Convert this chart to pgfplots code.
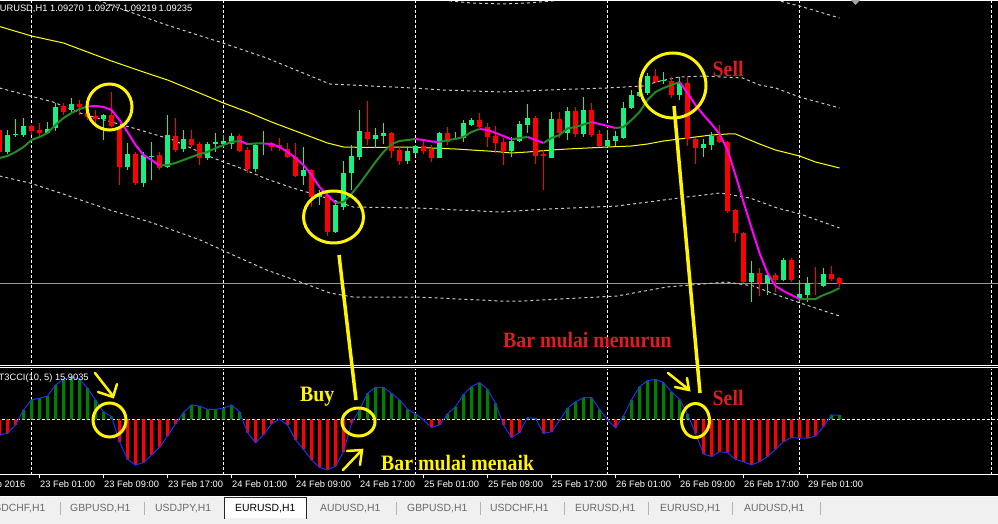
\documentclass[border=0pt]{standalone}
\usepackage{pgfplots}
\pgfplotsset{compat=1.18}
\usepackage{pgfplotstable}
\usepackage{graphicx}
\usepackage{fontspec}
\setmainfont{Liberation Sans}
\newfontfamily\notefont{Liberation Serif}

\definecolor{bull}{RGB}{20,240,130}
\definecolor{bear}{RGB}{255,0,0}
\definecolor{tup}{RGB}{34,139,34}
\definecolor{tdown}{RGB}{255,0,255}
\definecolor{slowma}{RGB}{255,255,0}
\definecolor{band}{RGB}{200,200,200}
\definecolor{bidgray}{RGB}{150,150,150}
\definecolor{cciup}{RGB}{0,128,0}
\definecolor{ccidn}{RGB}{255,0,0}
\definecolor{cciline}{RGB}{30,50,240}
\definecolor{hilite}{RGB}{255,245,0}
\definecolor{notered}{RGB}{220,30,35}
\definecolor{tabbg}{RGB}{240,240,240}
\definecolor{tabtext}{RGB}{105,105,105}

\newcommand\uifont{\fontsize{9.3}{11}\selectfont}
\newcommand\tabfont{\fontsize{10.4}{12}\selectfont}
\newcommand\notesize{\notefont\bfseries\fontsize{22}{24}\selectfont}

% EURUSD H1 candles: open, high, low, close (chart rows, top = 0)
\pgfplotstableread{
k o h l c
-1 130 128 155 152
0 152 130 154 135
1 135 119 137 134
2 135 118 137 126
3 126 125 135 131
4 130 123 137 133
5 133 122 134 129
6 128 103 131 107
7 106 103 115 112
8 110 98 112 104
9 104 100 115 107
10 113 110 120 117
11 116 110 124 119
12 119 114 140 115
13 115 92 127 126
14 128 126 185 167
15 167 143 170 154
16 154 152 185 183
17 183 152 187 155
18 157 142 180 156
19 155 152 170 168
20 167 115 168 135
21 136 118 152 150
22 149 130 152 139
23 139 130 147 145
24 144 142 165 158
25 158 142 160 144
26 144 133 152 142
27 144 135 147 141
28 144 133 149 136
29 136 134 152 151
30 150 147 173 169
31 169 143 172 145
32 144 131 155 143
33 143 142 151 147
34 145 138 151 148
35 149 143 158 157
36 157 143 177 176
37 176 147 185 170
38 170 169 207 197
39 197 190 205 193
40 195 193 236 232
41 232 200 233 205
42 207 161 210 173
43 173 145 190 156
44 157 110 160 131
45 132 101 145 139
46 139 128 148 135
47 136 123 144 133
48 133 132 158 151
49 150 147 165 161
50 161 147 164 151
51 153 145 155 146
52 146 140 154 151
53 149 145 162 158
54 158 132 158 133
55 133 127 145 142
56 139 132 140 138
57 138 120 142 123
58 125 118 126 120
59 120 113 128 127
60 127 123 147 137
61 136 126 153 143
62 142 138 165 151
63 151 137 157 141
64 141 121 142 124
65 125 104 133 118
66 118 116 164 156
67 154 150 190 156
68 158 112 158 119
69 119 112 138 133
70 133 107 140 111
71 111 107 137 134
72 134 97 137 110
73 110 103 137 135
74 134 130 147 146
75 146 130 147 140
76 141 131 146 136
77 138 102 139 108
78 108 90 109 95
79 96 78 97 92
80 93 73 95 76
81 76 69 83 82
82 81 72 84 80
83 81 77 98 95
84 95 77 100 83
85 83 77 146 139
86 139 138 164 148
87 148 139 157 144
88 145 132 150 136
89 136 125 143 142
90 142 141 213 211
91 210 209 242 233
92 233 232 283 282
93 282 261 302 273
94 273 268 296 283
95 283 273 295 275
96 275 273 292 280
97 280 258 281 260
98 260 258 282 280
99 298 280 302 294
100 295 277 302 283
101 283 267 295 284
102 286 268 287 274
103 274 266 281 279
104 278 277 287 283.5
}\candles

% T3 moving average, split into rising (g) and falling (m) stretches
\pgfplotstableread{
k g m
-1 158 nan
0 156 nan
1 152 nan
2 147 nan
3 140 nan
4 137 nan
5 133 nan
6 125 nan
7 118 nan
8 113 nan
9 109 nan
10 106.5 106.5
11 nan 106
12 nan 107
13 nan 110
14 nan 120
15 nan 132
16 nan 145
17 nan 155
18 nan 160
19 165.5 165.5
20 165 nan
21 163 nan
22 160 nan
23 157 nan
24 154 nan
25 152 nan
26 148 nan
27 145 nan
28 142 nan
29 141 141
30 144 144
31 143.5 nan
32 143.5 143.5
33 nan 144
34 nan 147
35 nan 152
36 nan 158
37 nan 165
38 nan 175
39 nan 187
40 nan 195
41 203 203
42 202 nan
43 194 nan
44 184 nan
45 173 nan
46 162 nan
47 152 nan
48 144 nan
49 141 nan
50 140 nan
51 139 139
52 nan 140
53 nan 141.5
54 142 142
55 140 nan
56 139 nan
57 137 nan
58 132 nan
59 129 129
60 nan 130
61 nan 133
62 nan 136
63 139.5 139.5
64 138 nan
65 137 137
66 nan 140
67 143 143
68 138 nan
69 135 nan
70 128.5 nan
71 127 nan
72 124.5 nan
73 122 122
74 nan 124
75 nan 126
76 128 128
77 127 nan
78 120 nan
79 112 nan
80 100 nan
81 92 nan
82 88 nan
83 85 nan
84 82 82
85 nan 93
86 nan 105
87 nan 115
88 nan 124
89 nan 134
90 nan 150
91 nan 175
92 nan 202
93 nan 228
94 nan 253
95 nan 273
96 nan 286
97 nan 291
98 nan 295
99 299 299
100 299 nan
101 299 nan
102 295 nan
103 292 nan
104 288 nan
}\tthree

% T3CCI(10,5) values
\pgfplotstableread{
k v
-1 -58
0 -52
1 -21
2 35
3 72
4 78
5 86
6 127
7 148
8 158
9 148
10 115
11 72
12 28
13 10
14 -83
15 -148
16 -169
17 -160
18 -132
19 -104
20 -62
21 -17
22 25
23 53
24 49
25 37
26 37
27 41
28 53
29 28
30 -49
31 -86
32 -58
33 -17
34 1
35 -21
36 -76
37 -111
38 -150
39 -178
40 -187
41 -173
42 -120
43 -15
44 35
45 96
46 118
47 118
48 96
49 72
50 37
51 20
52 -2
53 -30
54 -21
55 20
56 47
57 92
58 121
59 136
60 111
61 59
62 -21
63 -67
64 -49
65 6
66 4
67 -52
68 -46
69 -5
70 41
71 65
72 80
73 80
74 37
75 -2
76 -31
77 12
78 72
79 121
80 143
81 148
82 136
83 102
84 74
85 20
86 -52
87 -128
88 -138
89 -120
90 -123
91 -148
92 -157
93 -169
94 -157
95 -138
96 -111
97 -83
98 -67
99 -70
100 -70
101 -62
102 -27
103 16
104 15.9035
}\cci

\tikzset{
  gridline/.style={white, line width=1pt, dash pattern=on 3pt off 2pt},
  bandline/.style={band, line width=1pt, dash pattern=on 3pt off 3pt},
  hl/.style={hilite, line width=3pt},
}

\begin{document}
\begin{tikzpicture}
\path[use as bounding box] (0,0) rectangle (998pt,524pt);
\clip (0,0) rectangle (998pt,524pt);
\fill[black] (0,0) rectangle (998pt,524pt);

% ---------------- price window ----------------
\begin{axis}[at={(0pt,159pt)}, anchor=south west,
  width=998pt, height=365pt, scale only axis,
  xmin=-0.9375, xmax=123.8125, ymin=0, ymax=365, y dir=reverse,
  hide axis, clip=true]
  \draw[gridline] (axis cs:3,0) -- (axis cs:3,365);
  \draw[gridline] (axis cs:27,0) -- (axis cs:27,365);
  \draw[gridline] (axis cs:51,0) -- (axis cs:51,365);
  \draw[gridline] (axis cs:75,0) -- (axis cs:75,365);
  \draw[gridline] (axis cs:99,0) -- (axis cs:99,365);
  \draw[gridline] (axis cs:123,0) -- (axis cs:123,365);
  % bid line
  \addplot[bidgray, line width=1pt, forget plot] coordinates {(-2,283.5) (125,283.5)};
  % envelope bands
  \addplot[bandline, forget plot] coordinates {
    (-1,-117) (40.3,-6) (50.7,-2) (54.4,0) (56,1.5) (58,3) (62,4) (65,3) (68,1)
    (70,-1) (75,-2) (79.4,-4) (81.6,-11) (86.9,-14) (91.9,-12) (95,-4) (97,2)
    (99,6) (101.5,12) (104,18)};
  \addplot[bandline, forget plot] coordinates {
    (-1,-27) (10.9,-1) (13.2,6) (19.9,25) (26.9,43) (32.4,58) (40.3,84) (50.7,88)
    (54.4,90) (61.9,92) (67.4,90) (74.9,88) (79.4,86) (81.6,81) (84,77) (86.9,76)
    (91.9,78) (94,85) (96,88) (99,97) (104,108)};
  \addplot[bandline, forget plot] coordinates {
    (-1,88) (5.7,102) (9.4,114) (15.7,128) (20.7,140) (25.7,158) (29.1,168)
    (32.4,179) (35.3,187) (37.8,193) (40.7,200) (43.2,207) (51.2,208) (61.6,212)
    (67.4,209) (76.2,206) (84.9,197) (89.1,193) (92.8,198) (96.2,208) (99.1,214)
    (104,228)};
  \addplot[bandline, forget plot] coordinates {
    (-1,176) (2.8,183) (6.6,193) (12.8,210) (17.8,222) (24.1,240) (28.2,255)
    (32.4,270) (36.6,282) (40.3,293) (43.2,297) (51.2,297) (61.6,301) (64.4,301)
    (76.2,296) (82.4,287) (89.9,282) (93.2,286) (96.2,295) (99.1,303) (104,316)};
  % slow moving average
  \addplot[slowma, line width=1pt, forget plot] coordinates {
    (-1,26.5) (3,36) (7,43) (10,52) (13,61) (17,72) (20,80) (24,93) (27,103)
    (30,112) (33,122) (37,134) (40,143) (42,147) (45,147.5) (50,147) (53,148)
    (56,149) (58,150) (61,151.5) (63,153) (65,152) (68,150) (70,149) (75,147)
    (78,146) (80,144) (82,141) (84,139) (86,137) (88,135) (90,134) (91,134)
    (94,144) (96,150) (99,156) (101,162) (104,168)};
  % candle wicks
  \addplot[forget plot, draw=none, mark=none,
    restrict expr to domain={\thisrow{o}-\thisrow{c}}{0.01:1000},
    error bars/.cd, y dir=plus, y explicit, error mark=none,
    error bar style={draw=bull, line width=1pt}]
    table[x=k, y=h, y error plus expr={\thisrow{l}-\thisrow{h}}] {\candles};
  \addplot[forget plot, draw=none, mark=none,
    restrict expr to domain={\thisrow{o}-\thisrow{c}}{-1000:0},
    error bars/.cd, y dir=plus, y explicit, error mark=none,
    error bar style={draw=bear, line width=1pt}]
    table[x=k, y=h, y error plus expr={\thisrow{l}-\thisrow{h}}] {\candles};
  % candle bodies
  \addplot[forget plot, draw=none, mark=none,
    restrict expr to domain={\thisrow{o}-\thisrow{c}}{0.01:1000},
    error bars/.cd, y dir=plus, y explicit, error mark=none,
    error bar style={draw=bull, line width=5pt}]
    table[x=k, y expr={min(\thisrow{o},\thisrow{c})},
      y error plus expr={max(abs(\thisrow{o}-\thisrow{c}),1)}] {\candles};
  \addplot[forget plot, draw=none, mark=none,
    restrict expr to domain={\thisrow{o}-\thisrow{c}}{-1000:0},
    error bars/.cd, y dir=plus, y explicit, error mark=none,
    error bar style={draw=bear, line width=5pt}]
    table[x=k, y expr={min(\thisrow{o},\thisrow{c})},
      y error plus expr={max(abs(\thisrow{o}-\thisrow{c}),1)}] {\candles};
  % T3 line
  \addplot[tup, line width=2pt, unbounded coords=jump, forget plot] table[x=k, y=g] {\tthree};
  \addplot[tdown, line width=2pt, unbounded coords=jump, forget plot] table[x=k, y=m] {\tthree};
\end{axis}

% ---------------- indicator window ----------------
\begin{axis}[at={(0pt,49pt)}, anchor=south west,
  width=998pt, height=106pt, scale only axis,
  xmin=-0.9375, xmax=123.8125, ymin=-206, ymax=186.2,
  axis x line*=bottom, axis y line=none,
  axis line style={white, line width=1pt},
  xtick={4,12,...,100},
  xticklabels={23 Feb 01:00, 23 Feb 09:00, 23 Feb 17:00, 24 Feb 01:00, 24 Feb 09:00,
    24 Feb 17:00, 25 Feb 01:00, 25 Feb 09:00, 25 Feb 17:00, 26 Feb 01:00,
    26 Feb 09:00, 26 Feb 17:00, 29 Feb 01:00},
  ytick=\empty,
  tick align=outside, major tick length=3pt,
  tick style={white, line width=1pt},
  xticklabel style={anchor=north west, inner sep=0pt, text=white, font=\uifont,
    xshift=0.5pt, yshift=-3pt},
  clip=true]
  \draw[gridline] (axis cs:3,-206) -- (axis cs:3,186.2);
  \draw[gridline] (axis cs:27,-206) -- (axis cs:27,186.2);
  \draw[gridline] (axis cs:51,-206) -- (axis cs:51,186.2);
  \draw[gridline] (axis cs:75,-206) -- (axis cs:75,186.2);
  \draw[gridline] (axis cs:99,-206) -- (axis cs:99,186.2);
  \draw[gridline] (axis cs:123,-206) -- (axis cs:123,186.2);
  \addplot[white, line width=1pt, dash pattern=on 3pt off 2pt, forget plot]
    coordinates {(-2,0) (125,0)};
  \addplot[ybar, bar width=3pt, bar shift=0pt, fill=cciup, draw=none, forget plot,
    restrict y to domain=0:1000] table[x=k, y=v] {\cci};
  \addplot[ybar, bar width=3pt, bar shift=0pt, fill=ccidn, draw=none, forget plot,
    restrict y to domain=-1000:0] table[x=k, y=v] {\cci};
  \addplot[cciline, line width=1pt, forget plot] table[x=k, y=v] {\cci};
\end{axis}

% ---------------- frame, labels and notes (rows counted from the top) ----------------
\begin{scope}[x=1pt, y=-1pt, yshift=524pt]
  \draw[white, line width=1pt] (0,0.5) -- (998,0.5);
  \draw[white, line width=1pt] (0,365.5) -- (998,365.5);
  \draw[white, line width=1pt] (0,368) -- (998,368);
  \fill[gray!70] (851,0) -- (860,0) -- (855.5,5) -- cycle;

  \node[anchor=base west, inner sep=0pt, text=white, font=\uifont] at (-6.5,12) {EURUSD,H1};
  \node[anchor=base west, inner sep=0pt, text=white, font=\uifont] at (50,12) {1.09270};
  \node[anchor=base west, inner sep=0pt, text=white, font=\uifont] at (87,12) {1.09277};
  \node[anchor=base west, inner sep=0pt, text=white, font=\uifont] at (123,12) {1.09219};
  \node[anchor=base west, inner sep=0pt, text=white, font=\uifont] at (158.5,12) {1.09235};
  \node[anchor=base west, inner sep=0pt, text=white, font=\uifont] at (-1.5,380.5) {T3CCI(10, 5) 15.9035};
  \node[anchor=base east, inner sep=0pt, text=white, font=\uifont] at (25.5,488) {22 Feb 2016};

  % highlight circles
  \draw[hl] (109.5,107) ellipse [x radius=22.5, y radius=23];
  \draw[hl] (333.5,217) ellipse [x radius=30, y radius=26];
  \draw[hl] (673,85.5) ellipse [x radius=33, y radius=32.5];
  \draw[hl] (109.5,420) ellipse [x radius=16.5, y radius=17];
  \draw[hl] (358.5,422) ellipse [x radius=16.5, y radius=14];
  \draw[hl] (695.5,420.5) ellipse [x radius=14, y radius=17];
  % connecting strokes
  \draw[hilite, line width=3.5pt] (339,255) -- (356,400);
  \draw[hilite, line width=3.5pt] (674,106) -- (700,393);
  % small arrows
  \draw[hilite, line width=2.5pt, line cap=round] (95,373) -- (113,396);
  \draw[hilite, line width=2.5pt, line cap=round] (98,392) -- (113,397) -- (117,384);
  \draw[hilite, line width=2.5pt, line cap=round] (668,373) -- (688,389);
  \draw[hilite, line width=2.5pt, line cap=round] (675,387) -- (689,390) -- (687,378);
  \draw[hilite, line width=2.5pt, line cap=round] (343,470) -- (361,451);
  \draw[hilite, line width=2.5pt, line cap=round] (347,451) -- (362,450) -- (360,465);

  % notes
  \node[anchor=base west, inner sep=0pt, text=notered] at (712.5,77) {\scalebox{0.9}[1]{\notesize Sell}};
  \node[anchor=base west, inner sep=0pt, text=notered] at (712.5,406) {\scalebox{0.9}[1]{\notesize Sell}};
  \node[anchor=base west, inner sep=0pt, text=notered] at (503,348) {\scalebox{0.9}[1]{\notesize Bar mulai menurun}};
  \node[anchor=base west, inner sep=0pt, text=hilite] at (300,402) {\scalebox{0.9}[1]{\notesize Buy}};
  \node[anchor=base west, inner sep=0pt, text=hilite] at (381,471) {\scalebox{0.9}[1]{\notesize Bar mulai menaik}};

  % symbol tabs
  \fill[tabbg] (0,497) rectangle (998,524);
  \draw[white, line width=1pt] (0,496.5) -- (998,496.5);
  \fill[white] (224,497.5) rectangle (307,518);
  \draw[black!85, line width=1pt] (224.5,519) -- (224.5,497.5) -- (306.5,497.5) -- (306.5,519);
  \foreach \sx in {60,144,396,480,564,648,732,820}
    \draw[gray!60, line width=1pt] (\sx,502) -- (\sx,515);
  \node[anchor=base east, inner sep=0pt, text=tabtext, font=\tabfont] at (45.5,512) {USDCHF,H1};
  \node[anchor=base west, inner sep=0pt, text=tabtext, font=\tabfont] at (70,512) {GBPUSD,H1};
  \node[anchor=base west, inner sep=0pt, text=tabtext, font=\tabfont] at (155,512) {USDJPY,H1};
  \node[anchor=base west, inner sep=0pt, text=black, font=\tabfont] at (235,512) {EURUSD,H1};
  \node[anchor=base west, inner sep=0pt, text=tabtext, font=\tabfont] at (320,512) {AUDUSD,H1};
  \node[anchor=base west, inner sep=0pt, text=tabtext, font=\tabfont] at (407,512) {GBPUSD,H1};
  \node[anchor=base west, inner sep=0pt, text=tabtext, font=\tabfont] at (490,512) {USDCHF,H1};
  \node[anchor=base west, inner sep=0pt, text=tabtext, font=\tabfont] at (575,512) {EURUSD,H1};
  \node[anchor=base west, inner sep=0pt, text=tabtext, font=\tabfont] at (660,512) {EURUSD,H1};
  \node[anchor=base west, inner sep=0pt, text=tabtext, font=\tabfont] at (744,512) {AUDUSD,H1};
\end{scope}
\end{tikzpicture}
\end{document}
